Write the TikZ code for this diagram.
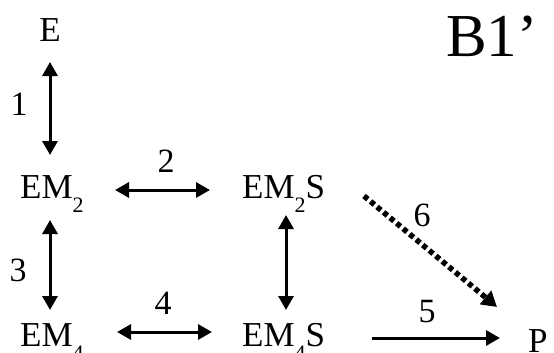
\documentclass[tikz,border=0pt]{standalone}
\usepackage{fontspec}
\setmainfont{Liberation Serif}
\usetikzlibrary{arrows.meta}
\newcommand\subx[1]{\raisebox{-0.42em}{\fontsize{22}{22}\selectfont #1}}
\tikzset{
  lbl/.style={inner sep=0pt, font=\fontsize{34}{36}\selectfont},
  species/.style={inner sep=0pt, anchor=base west, font=\fontsize{35}{38}\selectfont},
  conn/.style={line width=3pt, {Triangle[length=14pt,width=15pt]}-{Triangle[length=14pt,width=15pt]}},
  oneway/.style={line width=3pt, -{Triangle[length=14pt,width=15pt]}},
  dotconn/.style={line width=5.5pt, dash pattern=on 5pt off 3.5pt, -{Triangle[length=15pt,width=17pt]}}
}
\begin{document}
\begin{tikzpicture}[x=1pt,y=-1pt]
\useasboundingbox (0,0) rectangle (554,353);
% species
\node[species, anchor=base] (E) at (50,42) {E};
\node[species] (EM2) at (20,198) {EM\subx{2}};
\node[species] (EM2S) at (242,198) {EM\subx{2}S};
\node[species] (EM4) at (20,346) {EM\subx{4}};
\node[species] (EM4S) at (242,346) {EM\subx{4}S};
\node[species] (P) at (528,352) {P};
\node[inner sep=0pt, anchor=base west, font=\fontsize{61}{64}\selectfont] (title) at (446,57) {B1’};
% arrow end points
\coordinate (a1s) at (50,62);  \coordinate (a1e) at (50,155);
\coordinate (a2s) at (115,190); \coordinate (a2e) at (210,190);
\coordinate (a3s) at (50,220); \coordinate (a3e) at (50,310);
\coordinate (a4s) at (117,332); \coordinate (a4e) at (212,332);
\coordinate (a7s) at (286,215); \coordinate (a7e) at (286,310);
\coordinate (a5s) at (372,338); \coordinate (a5e) at (500,338);
\coordinate (a6s) at (364,196); \coordinate (a6e) at (497,307);
% connectors
\draw[conn] (a1s) -- (a1e);
\draw[conn] (a2s) -- (a2e);
\draw[conn] (a3s) -- (a3e);
\draw[conn] (a4s) -- (a4e);
\draw[conn] (a7s) -- (a7e);
\draw[oneway] (a5s) -- (a5e);
\draw[dotconn] (a6s) -- (a6e);
% labels
\node[lbl] (l1) at (19,104) {1};
\node[lbl] (l2) at (166,161) {2};
\node[lbl] (l3) at (18,270) {3};
\node[lbl] (l4) at (163,303) {4};
\node[lbl] (l5) at (427,312) {5};
\node[lbl] (l6) at (422,215) {6};
\end{tikzpicture}
\end{document}
